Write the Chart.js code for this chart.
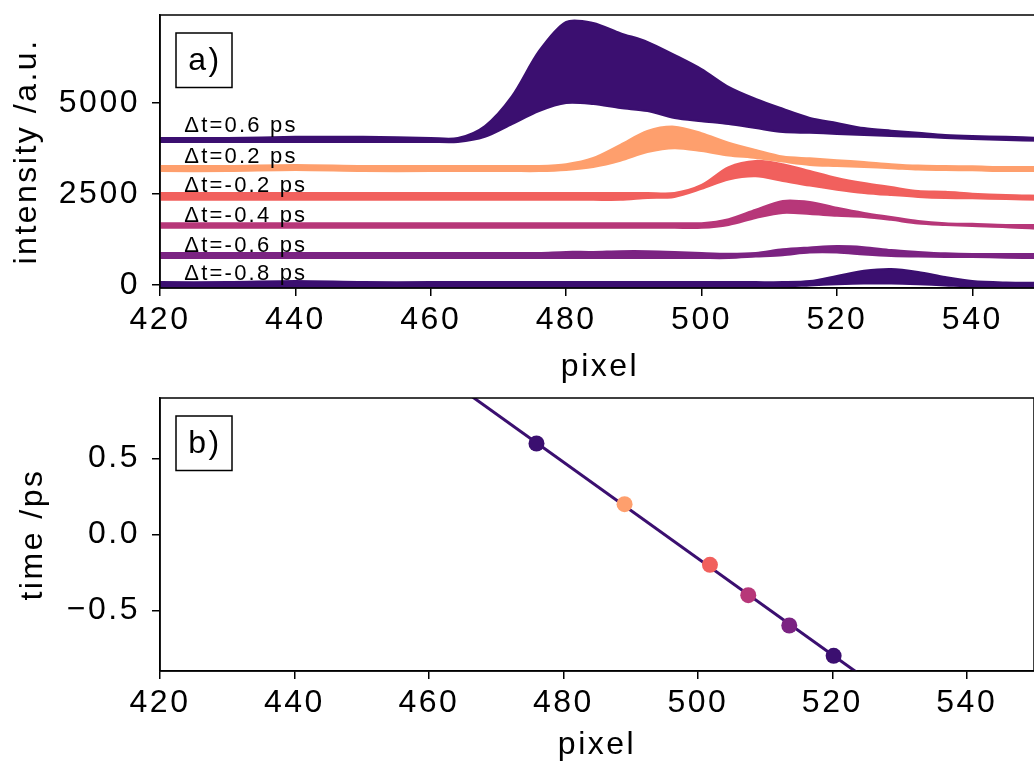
<!DOCTYPE html>
<html>
<head>
<meta charset="utf-8">
<script src="https://cdn.jsdelivr.net/npm/chart.js@4.4.1/dist/chart.umd.min.js"></script>
<style>
  html, body { margin: 0; padding: 0; background: #fff; overflow: hidden; }
  #wrap { position: relative; width: 1034px; height: 764px; overflow: hidden; background: #fff; }
  canvas { position: absolute; left: 0; }
  #spectra-chart { top: 0; }
  #time-chart { top: 390px; }
</style>
</head>
<body>
<div id="wrap">
  <canvas id="spectra-chart" width="1042" height="390"></canvas>
  <canvas id="time-chart" width="1042" height="374"></canvas>
</div>
<script>
const pixelGrid = [420, 430, 440, 450, 460, 464, 468, 472, 476, 480, 484, 488, 492, 496, 500, 504, 508, 512, 516, 520, 524, 528, 532, 536, 540, 545, 550];

// upper / lower edge of each bundle of traces
const upper06 = [4040, 4040, 4070, 4070, 4040, 4040, 4370, 5190, 6430, 7230, 7200, 6920, 6680, 6320, 5930, 5440, 5110, 4840, 4590, 4450, 4310, 4240, 4180, 4120, 4090, 4070, 4040];
const lower06 = [3930, 3930, 3930, 3930, 3930, 3930, 4070, 4420, 4780, 5000, 4970, 4860, 4780, 4590, 4500, 4420, 4310, 4200, 4180, 4150, 4120, 4090, 4070, 4040, 4010, 3980, 3960];
const upper02 = [3270, 3270, 3300, 3270, 3270, 3270, 3270, 3270, 3270, 3320, 3490, 3850, 4230, 4350, 4170, 3910, 3710, 3530, 3480, 3430, 3380, 3320, 3280, 3270, 3260, 3240, 3240];
const lower02 = [3130, 3130, 3160, 3130, 3130, 3130, 3130, 3130, 3130, 3160, 3240, 3410, 3650, 3760, 3680, 3560, 3490, 3390, 3300, 3270, 3240, 3210, 3170, 3160, 3150, 3130, 3130];
const upperM02 = [2530, 2530, 2530, 2530, 2530, 2530, 2530, 2530, 2530, 2530, 2530, 2530, 2530, 2530, 2750, 3240, 3410, 3320, 3130, 2940, 2800, 2690, 2580, 2560, 2510, 2470, 2450];
const lowerM02 = [2340, 2340, 2340, 2340, 2340, 2340, 2340, 2340, 2340, 2340, 2340, 2340, 2390, 2420, 2640, 2900, 2990, 2860, 2730, 2620, 2530, 2470, 2420, 2390, 2380, 2360, 2340];
const upperM04 = [1700, 1700, 1700, 1700, 1700, 1700, 1700, 1700, 1700, 1700, 1700, 1700, 1700, 1700, 1700, 1810, 2070, 2310, 2280, 2120, 1980, 1870, 1760, 1700, 1680, 1650, 1650];
const lowerM04 = [1570, 1570, 1570, 1570, 1570, 1570, 1570, 1570, 1570, 1570, 1570, 1570, 1570, 1570, 1570, 1650, 1840, 1980, 1950, 1900, 1870, 1790, 1690, 1650, 1620, 1590, 1540];
const upperM06 = [880, 880, 880, 880, 880, 880, 880, 880, 880, 910, 910, 930, 930, 910, 880, 860, 880, 980, 1030, 1070, 1040, 960, 910, 870, 850, 850, 850];
const lowerM06 = [740, 740, 740, 740, 740, 740, 740, 740, 740, 740, 740, 740, 740, 740, 740, 740, 780, 820, 890, 890, 840, 800, 780, 770, 770, 750, 740];
const upperM08 = [80, 80, 110, 80, 80, 80, 80, 80, 80, 80, 80, 80, 80, 80, 80, 80, 80, 80, 110, 250, 390, 440, 360, 220, 110, 70, 60];
const lowerM08 = [-50, -50, -50, -50, -50, -50, -50, -50, -50, -50, -50, -50, -50, -50, -50, -50, -50, -40, -10, 20, 40, 40, 20, -10, -40, -50, -50];

const delayLabels = ["Δt=0.6 ps", "Δt=0.2 ps", "Δt=-0.2 ps", "Δt=-0.4 ps", "Δt=-0.6 ps", "Δt=-0.8 ps"];
const labelIntensity = [4190, 3360, 2560, 1740, 915, 140];
const labelPixel = 423.6;

// panel b): peak pixel vs delay, plus linear fit
const delays = [0.6, 0.2, -0.2, -0.4, -0.6, -0.8];
const peakPixel = [476.0, 489.1, 501.8, 507.5, 513.6, 520.2];
const fitPixel = [460, 530];
const fitTime = [1.113, -1.111];

const xTicks = [420, 440, 460, 480, 500, 520, 540];
const intensityTicks = [0, 2500, 5000];
const timeTicks = [-0.5, 0, 0.5];

const bandColors = ["#3b0f70", "#fe9f6d", "#f1605d", "#b73779", "#7b2382", "#3b0f70"];
const bands = [
  [upper06, lower06],
  [upper02, lower02],
  [upperM02, lowerM02],
  [upperM04, lowerM04],
  [upperM06, lowerM06],
  [upperM08, lowerM08],
];

Chart.defaults.font.family = "'Liberation Sans', Arial, sans-serif";
Chart.defaults.color = "#000";

const toPoints = (ys) => pixelGrid.map((x, j) => ({ x: x, y: ys[j] }));

// letter spacing of the original figure's text
const spacingPlugin = {
  id: "spacing",
  beforeUpdate(chart) {
    chart.ctx.letterSpacing = "2.5px";
  },
  beforeDraw(chart) {
    chart.ctx.letterSpacing = "2.5px";
  },
};

// closed box round the axes plus the a) / b) tag
const framePlugin = {
  id: "frame",
  afterDatasetsDraw(chart, args, opts) {
    const { ctx, chartArea } = chart;
    ctx.save();
    ctx.strokeStyle = "#000";
    ctx.lineWidth = 1.5;
    ctx.strokeRect(chartArea.left, chartArea.top, chartArea.right - chartArea.left, chartArea.bottom - chartArea.top);
    const bx = chartArea.left + 16;
    const by = chartArea.top + 18;
    ctx.fillStyle = "#fff";
    ctx.fillRect(bx, by, 56, 54.5);
    ctx.strokeRect(bx, by, 56, 54.5);
    ctx.fillStyle = "#000";
    ctx.font = "32px 'Liberation Sans', Arial, sans-serif";
    ctx.textAlign = "center";
    ctx.textBaseline = "middle";
    ctx.fillText(opts.tag, bx + 29, by + 28);
    ctx.restore();
  },
};

const delayLabelPlugin = {
  id: "delayLabels",
  afterDatasetsDraw(chart) {
    const { ctx, scales } = chart;
    ctx.save();
    ctx.fillStyle = "#000";
    ctx.letterSpacing = "2.2px";
    ctx.font = "22px 'Liberation Sans', Arial, sans-serif";
    ctx.textAlign = "left";
    ctx.textBaseline = "alphabetic";
    delayLabels.forEach((text, i) => {
      ctx.fillText(text, scales.x.getPixelForValue(labelPixel), scales.y.getPixelForValue(labelIntensity[i]));
    });
    ctx.restore();
  },
};

const axisStyle = (title, titlePad) => ({
  border: { display: true, color: "#000", width: 1.5 },
  grid: { display: true, drawOnChartArea: false, drawTicks: true, tickLength: 8, color: "#000", lineWidth: 1.5 },
  ticks: { font: { size: 32 }, color: "#000", padding: 5, maxRotation: 0, autoSkip: false },
  title: { display: true, text: title, font: { size: 32 }, color: "#000", padding: titlePad },
});

const xAxis = (height, titlePad) => {
  const axis = axisStyle("pixel", { top: 0, bottom: titlePad });
  return Object.assign(axis, {
    type: "linear",
    min: 420,
    max: 550,
    afterBuildTicks: (scale) => {
      scale.ticks = xTicks.map((v) => ({ value: v }));
    },
    afterFit: (scale) => {
      scale.height = height;
      scale.paddingLeft = 0;
      scale.paddingRight = 0;
    },
  });
};

const spectraDatasets = [];
bands.forEach((band, i) => {
  const color = bandColors[i];
  spectraDatasets.push({
    data: toPoints(band[1]),
    borderColor: color,
    backgroundColor: color,
    borderWidth: 2,
    pointRadius: 0,
    tension: 0.3,
    fill: false,
    order: i,
  });
  spectraDatasets.push({
    data: toPoints(band[0]),
    borderColor: color,
    backgroundColor: color,
    borderWidth: 2,
    pointRadius: 0,
    tension: 0.3,
    fill: "-1",
    order: i,
  });
});

const spectraY = axisStyle("intensity /a.u.", { top: 8, bottom: 0 });
spectraY.ticks.padding = 12;
spectraY.ticks.callback = (v) => String(v);
Object.assign(spectraY, {
  type: "linear",
  min: -82,
  max: 7417,
  afterBuildTicks: (scale) => {
    scale.ticks = intensityTicks.map((v) => ({ value: v }));
  },
  afterFit: (scale) => {
    scale.width = 160;
    scale.paddingTop = 0;
    scale.paddingBottom = 0;
  },
});

new Chart(document.getElementById("spectra-chart"), {
  type: "line",
  data: { datasets: spectraDatasets },
  options: {
    responsive: false,
    animation: false,
    events: [],
    layout: { padding: { top: 15, right: 2, bottom: 0, left: 0 } },
    scales: { x: xAxis(102, 4), y: spectraY },
    plugins: {
      legend: { display: false },
      tooltip: { enabled: false },
      frame: { tag: "a)" },
    },
  },
  plugins: [spacingPlugin, framePlugin, delayLabelPlugin],
});

const timeY = axisStyle("time /ps", { top: 14, bottom: 0 });
timeY.ticks.padding = 12;
timeY.ticks.callback = (v) => (v < 0 ? "\u2212" : "") + Math.abs(v).toFixed(1);
Object.assign(timeY, {
  type: "linear",
  min: -0.9,
  max: 0.9,
  afterBuildTicks: (scale) => {
    scale.ticks = timeTicks.map((v) => ({ value: v }));
  },
  afterFit: (scale) => {
    scale.width = 160;
    scale.paddingTop = 0;
    scale.paddingBottom = 0;
  },
});

new Chart(document.getElementById("time-chart"), {
  type: "scatter",
  data: {
    datasets: [
      {
        data: peakPixel.map((x, i) => ({ x: x, y: delays[i] })),
        pointBackgroundColor: bandColors,
        pointBorderWidth: 0,
        pointRadius: 8,
        order: 0,
      },
      {
        data: fitPixel.map((x, i) => ({ x: x, y: fitTime[i] })),
        showLine: true,
        borderColor: "#3b0f70",
        borderWidth: 3,
        pointRadius: 0,
        order: 1,
      },
    ],
  },
  options: {
    responsive: false,
    animation: false,
    events: [],
    layout: { padding: { top: 8, right: 2, bottom: 0, left: 0 } },
    scales: { x: xAxis(93, 0), y: timeY },
    plugins: {
      legend: { display: false },
      tooltip: { enabled: false },
      frame: { tag: "b)" },
    },
  },
  plugins: [spacingPlugin, framePlugin],
});
</script>
</body>
</html>
